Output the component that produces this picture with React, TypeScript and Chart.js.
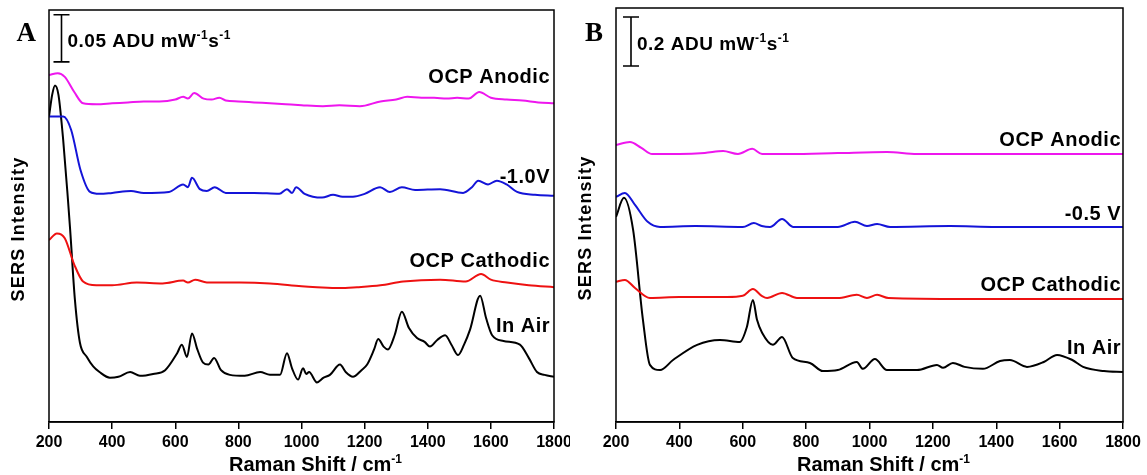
import React, { useEffect, useRef } from "react";
import { Chart, registerables } from "chart.js";

Chart.register(...registerables);

// ---------- Panel A data (Raman shift cm-1, displayed intensity in ADU mW-1 s-1, offset) ----------
const aAnodicX = [200, 228, 250, 280, 308, 350, 400, 450, 500, 550, 600, 625, 640, 660, 690, 715, 740, 760, 800, 850, 900, 950, 1000, 1068, 1120, 1185, 1250, 1300, 1335, 1380, 1420, 1460, 1493, 1530, 1563, 1600, 1650, 1700, 1750, 1800];
const aAnodicY = [0.371, 0.373, 0.369, 0.353, 0.341, 0.340, 0.341, 0.342, 0.343, 0.343, 0.345, 0.348, 0.346, 0.352, 0.346, 0.345, 0.347, 0.344, 0.343, 0.342, 0.341, 0.340, 0.339, 0.338, 0.339, 0.338, 0.343, 0.345, 0.348, 0.347, 0.347, 0.346, 0.347, 0.346, 0.353, 0.347, 0.345, 0.344, 0.342, 0.341];

const aNeg10X = [200, 245, 270, 300, 330, 360, 400, 460, 500, 580, 625, 640, 653, 678, 700, 725, 760, 850, 930, 954, 970, 983, 1010, 1065, 1100, 1130, 1163, 1200, 1249, 1280, 1318, 1360, 1439, 1512, 1540, 1560, 1591, 1619, 1650, 1683, 1740, 1800];
const aNeg10Y = [0.327, 0.327, 0.313, 0.270, 0.247, 0.245, 0.246, 0.248, 0.246, 0.247, 0.255, 0.252, 0.262, 0.250, 0.248, 0.252, 0.246, 0.246, 0.245, 0.250, 0.246, 0.252, 0.245, 0.241, 0.244, 0.242, 0.242, 0.245, 0.252, 0.247, 0.252, 0.249, 0.250, 0.246, 0.252, 0.259, 0.255, 0.259, 0.255, 0.247, 0.244, 0.243];

const aCathodicX = [200, 225, 250, 280, 308, 350, 400, 478, 560, 625, 640, 663, 700, 805, 900, 1000, 1049, 1120, 1176, 1250, 1322, 1439, 1520, 1569, 1600, 1651, 1720, 1800];
const aCathodicY = [0.196, 0.203, 0.198, 0.170, 0.152, 0.148, 0.148, 0.151, 0.150, 0.153, 0.151, 0.154, 0.151, 0.151, 0.150, 0.147, 0.146, 0.145, 0.146, 0.148, 0.152, 0.154, 0.152, 0.160, 0.154, 0.151, 0.148, 0.146];

const aAirX = [200, 210, 219, 230, 245, 260, 267, 282, 298, 320, 340, 360, 393, 420, 457, 488, 530, 568, 606, 621, 637, 653, 670, 688, 705, 723, 745, 773, 820, 869, 900, 932, 954, 970, 989, 1005, 1015, 1024, 1049, 1070, 1090, 1122, 1140, 1163, 1190, 1208, 1230, 1243, 1260, 1274, 1295, 1318, 1340, 1366, 1390, 1407, 1430, 1455, 1475, 1496, 1515, 1534, 1566, 1585, 1604, 1640, 1692, 1720, 1746, 1770, 1800];
const aAirY = [0.327, 0.350, 0.360, 0.350, 0.302, 0.239, 0.207, 0.133, 0.087, 0.072, 0.062, 0.056, 0.050, 0.051, 0.056, 0.052, 0.054, 0.058, 0.076, 0.085, 0.072, 0.097, 0.080, 0.066, 0.064, 0.071, 0.058, 0.053, 0.052, 0.056, 0.053, 0.053, 0.076, 0.060, 0.048, 0.060, 0.054, 0.056, 0.045, 0.050, 0.053, 0.064, 0.056, 0.051, 0.058, 0.064, 0.080, 0.091, 0.083, 0.080, 0.095, 0.120, 0.103, 0.092, 0.088, 0.083, 0.090, 0.095, 0.085, 0.074, 0.085, 0.101, 0.137, 0.113, 0.095, 0.089, 0.085, 0.071, 0.056, 0.053, 0.051];

// ---------- Panel B data ----------
const bAnodicX = [200, 244, 280, 314, 400, 480, 538, 585, 630, 661, 750, 900, 1055, 1150, 1300, 1500, 1650, 1800];
const bAnodicY = [1.143, 1.155, 1.131, 1.106, 1.106, 1.110, 1.118, 1.106, 1.127, 1.106, 1.106, 1.110, 1.114, 1.106, 1.106, 1.106, 1.106, 1.106];

const bNeg05X = [200, 228, 260, 300, 339, 450, 600, 635, 660, 686, 724, 760, 900, 954, 992, 1024, 1065, 1254, 1400, 1600, 1800];
const bNeg05Y = [0.931, 0.947, 0.898, 0.829, 0.808, 0.812, 0.808, 0.824, 0.812, 0.808, 0.841, 0.808, 0.808, 0.829, 0.812, 0.820, 0.808, 0.812, 0.808, 0.808, 0.808];

const bCathodicX = [200, 228, 260, 307, 400, 550, 600, 632, 660, 677, 724, 771, 900, 960, 992, 1024, 1060, 1300, 1600, 1800];
const bCathodicY = [0.584, 0.592, 0.559, 0.518, 0.522, 0.522, 0.527, 0.555, 0.527, 0.518, 0.539, 0.518, 0.518, 0.531, 0.518, 0.531, 0.518, 0.514, 0.514, 0.514];

const bAirX = [200, 225, 254, 285, 307, 339, 380, 456, 528, 591, 613, 632, 645, 661, 695, 724, 758, 812, 853, 900, 960, 979, 1017, 1055, 1150, 1213, 1232, 1263, 1300, 1358, 1412, 1443, 1497, 1550, 1592, 1640, 1674, 1740, 1800];
const bAirY = [0.849, 0.927, 0.796, 0.429, 0.245, 0.224, 0.265, 0.327, 0.347, 0.339, 0.400, 0.510, 0.429, 0.376, 0.327, 0.359, 0.273, 0.253, 0.220, 0.224, 0.257, 0.229, 0.269, 0.224, 0.224, 0.245, 0.233, 0.253, 0.237, 0.229, 0.261, 0.265, 0.237, 0.257, 0.286, 0.265, 0.237, 0.220, 0.216];

const xTicks = [200, 400, 600, 800, 1000, 1200, 1400, 1600, 1800];

const seriesLabelsA = ["OCP Anodic", "-1.0V", "OCP Cathodic", "In Air"];
const labelYA = [0.368, 0.262, 0.173, 0.104];
const seriesLabelsB = ["OCP Anodic", "-0.5 V", "OCP Cathodic", "In Air"];
const labelYB = [1.163, 0.861, 0.571, 0.314];

const COLORS = ["#ee16ee", "#1414d8", "#ee1111", "#000000"];

type PanelCfg = {
  letter: string;
  scaleValue: string;
  scaleFrom: number;
  scaleTo: number;
  yMin: number;
  yMax: number;
  series: { x: number[]; y: number[] }[];
  labels: string[];
  labelY: number[];
  pad: { left: number; right: number; top: number };
  labelRightInset: number;
  barInset: number;
};

const panelA: PanelCfg = {
  letter: "A",
  scaleValue: "0.05",
  scaleFrom: 0.385,
  scaleTo: 0.435,
  yMin: 0.003,
  yMax: 0.44,
  series: [
    { x: aAnodicX, y: aAnodicY },
    { x: aNeg10X, y: aNeg10Y },
    { x: aCathodicX, y: aCathodicY },
    { x: aAirX, y: aAirY },
  ],
  labels: seriesLabelsA,
  labelY: labelYA,
  pad: { left: 49, right: 16, top: 10 },
  labelRightInset: 4,
  barInset: 12.5,
};

const panelB: PanelCfg = {
  letter: "B",
  scaleValue: "0.2",
  scaleFrom: 1.465,
  scaleTo: 1.665,
  yMin: 0.012,
  yMax: 1.702,
  series: [
    { x: bAnodicX, y: bAnodicY },
    { x: bNeg05X, y: bNeg05Y },
    { x: bCathodicX, y: bCathodicY },
    { x: bAirX, y: bAirY },
  ],
  labels: seriesLabelsB,
  labelY: labelYB,
  pad: { left: 46, right: 24, top: 8 },
  labelRightInset: 2,
  barInset: 15,
};

const SANS = "Arial, 'Liberation Sans', sans-serif";

function drawSup(ctx: CanvasRenderingContext2D, parts: [string, boolean][], x: number, y: number, size: number) {
  let cx = x;
  for (const [t, sup] of parts) {
    ctx.font = `bold ${sup ? Math.round(size * 0.62) : size}px ${SANS}`;
    ctx.fillText(t, cx, sup ? y - size * 0.42 : y);
    cx += ctx.measureText(t).width;
  }
  return cx - x;
}

function measureSup(ctx: CanvasRenderingContext2D, parts: [string, boolean][], size: number) {
  let w = 0;
  for (const [t, sup] of parts) {
    ctx.font = `bold ${sup ? Math.round(size * 0.62) : size}px ${SANS}`;
    w += ctx.measureText(t).width;
  }
  return w;
}

function Panel({ cfg, width, left }: { cfg: PanelCfg; width: number; left: number }) {
  const ref = useRef<HTMLCanvasElement>(null);
  useEffect(() => {
    if (!ref.current) return;
    const decor = {
      id: "decor",
      afterDraw(chart: any) {
        const ctx = chart.ctx as CanvasRenderingContext2D;
        const ca = chart.chartArea;
        const ys = chart.scales.y;
        ctx.save();
        // frame
        ctx.strokeStyle = "#000";
        ctx.lineWidth = 1.5;
        ctx.strokeRect(ca.left, ca.top, ca.right - ca.left, ca.bottom - ca.top);
        // panel letter
        ctx.fillStyle = "#000";
        ctx.font = "bold 27px 'Liberation Serif', 'Times New Roman', serif";
        ctx.textAlign = "right";
        ctx.textBaseline = "middle";
        ctx.fillText(cfg.letter, ca.left - 13, 34);
        // scale bar
        const bx = ca.left + cfg.barInset;
        const y1 = ys.getPixelForValue(cfg.scaleFrom);
        const y2 = ys.getPixelForValue(cfg.scaleTo);
        ctx.lineWidth = 1.6;
        ctx.beginPath();
        ctx.moveTo(bx, y1);
        ctx.lineTo(bx, y2);
        ctx.moveTo(bx - 8, y1);
        ctx.lineTo(bx + 8, y1);
        ctx.moveTo(bx - 8, y2);
        ctx.lineTo(bx + 8, y2);
        ctx.stroke();
        ctx.textAlign = "left";
        ctx.textBaseline = "alphabetic";
        (ctx as any).letterSpacing = "0.5px";
        drawSup(
          ctx,
          [
            [cfg.scaleValue + " ADU mW", false],
            ["-1", true],
            ["s", false],
            ["-1", true],
          ],
          bx + 6,
          (y1 + y2) / 2 + 8.5,
          19
        );
        // series labels
        ctx.font = `bold 20px ${SANS}`;
        (ctx as any).letterSpacing = "0.5px";
        ctx.textAlign = "right";
        ctx.textBaseline = "middle";
        cfg.labels.forEach((t, i) => {
          ctx.fillText(t, ca.right - cfg.labelRightInset, ys.getPixelForValue(cfg.labelY[i]));
        });
        (ctx as any).letterSpacing = "0px";
        // x title
        const parts: [string, boolean][] = [
          ["Raman Shift / cm", false],
          ["-1", true],
        ];
        const tw = measureSup(ctx, parts, 20);
        ctx.textAlign = "left";
        ctx.textBaseline = "alphabetic";
        const cxm = (ca.left + ca.right) / 2 + 14;
        drawSup(ctx, parts, cxm - tw / 2, 471, 20);
        // y title
        ctx.save();
        ctx.translate(ca.left - 30, (ca.top + ca.bottom) / 2 + 13);
        ctx.rotate(-Math.PI / 2);
        ctx.font = `bold 18px ${SANS}`;
        (ctx as any).letterSpacing = "1.2px";
        ctx.textAlign = "center";
        ctx.textBaseline = "middle";
        ctx.fillText("SERS Intensity", 0, 0);
        ctx.restore();
        ctx.restore();
      },
    };
    const chart = new Chart(ref.current, {
      type: "line",
      data: {
        datasets: cfg.series.map((s, i) => ({
          data: s.x.map((x, j) => ({ x, y: s.y[j] })),
          borderColor: COLORS[i],
          borderWidth: 2,
          pointRadius: 0,
          fill: false,
          tension: 0.35,
          cubicInterpolationMode: "monotone" as const,
        })),
      },
      options: {
        animation: false,
        responsive: false,
        maintainAspectRatio: false,
        layout: { padding: { left: cfg.pad.left, right: cfg.pad.right, top: cfg.pad.top, bottom: 0 } },
        plugins: { legend: { display: false }, tooltip: { enabled: false } },
        scales: {
          x: {
            type: "linear",
            min: 200,
            max: 1800,
            afterBuildTicks: (s: any) => {
              s.ticks = xTicks.map((v) => ({ value: v }));
            },
            afterFit: (s: any) => {
              s.height = 53;
              s.paddingLeft = 0;
              s.paddingRight = 0;
            },
            ticks: {
              color: "#000",
              font: { family: SANS, size: 16, weight: "bold" },
              padding: 4,
              maxRotation: 0,
              autoSkip: false,
              callback: (v: any) => String(v),
            },
            grid: {
              display: true,
              drawOnChartArea: false,
              drawTicks: true,
              tickLength: 7,
              color: "#000",
              lineWidth: 1.5,
            },
            border: { display: true, color: "#000", width: 1.5 },
          },
          y: { display: false, min: cfg.yMin, max: cfg.yMax },
        },
      },
      plugins: [decor],
    });
    return () => chart.destroy();
  }, [cfg]);
  return (
    <canvas
      ref={ref}
      width={width}
      height={475}
      style={{ position: "absolute", left, top: 0, width, height: 475 }}
    />
  );
}

export default function App() {
  return (
    <div style={{ position: "absolute", left: 0, top: 0, width: 1147, height: 475, background: "#fff" }}>
      <Panel cfg={panelA} width={570} left={0} />
      <Panel cfg={panelB} width={577} left={570} />
    </div>
  );
}
